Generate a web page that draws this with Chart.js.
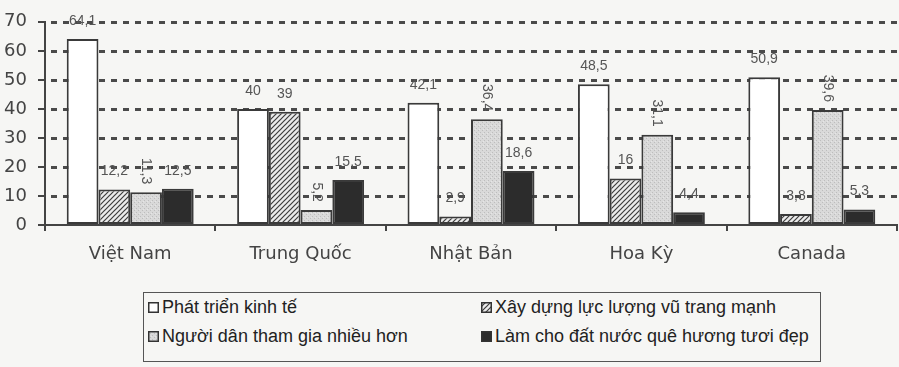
<!DOCTYPE html>
<html lang="vi">
<head>
<meta charset="utf-8">
<script src="https://cdn.jsdelivr.net/npm/chart.js@4/dist/chart.umd.min.js"></script>
<style>
  html, body { margin: 0; padding: 0; background: #f6f6f4; }
  #wrap { position: relative; width: 899px; height: 367px; background: #f6f6f4; overflow: hidden; }
  #plot { position: absolute; left: 0; top: 0; width: 899px; height: 280px; }
  #legend {
    position: absolute; left: 143px; top: 292px; width: 676px; height: 68px;
    border: 1.5px solid #555; box-sizing: content-box;
    font-family: "Liberation Sans Narrow", "Arial Narrow", "Liberation Sans", Arial, sans-serif;
    font-size: 18px; color: #222;
  }
  .item { position: absolute; display: flex; align-items: center; white-space: nowrap; }
  .item canvas { margin-right: 3px; }
</style>
</head>
<body>
<div id="wrap">
  <div id="plot"><canvas id="chart"></canvas></div>
  <div id="legend"></div>
</div>
<script>
// Countries on the category axis
const countries = ["Việt Nam", "Trung Quốc", "Nhật Bản", "Hoa Kỳ", "Canada"];

// Series names
const seriesNames = [
  "Phát triển kinh tế",
  "Xây dựng lực lượng vũ trang mạnh",
  "Người dân tham gia nhiều hơn",
  "Làm cho đất nước quê hương tươi đẹp"
];

// Percentages per series, in country order
const kinhTe   = [64.1, 40, 42.1, 48.5, 50.9];
const vuTrang  = [12.2, 39, 2.9, 16, 3.8];
const nguoiDan = [11.3, 5.2, 36.4, 31.1, 39.6];
const langQue  = [12.5, 15.5, 18.6, 4.4, 5.3];

// Y axis range and step
const yMin = 0, yMax = 70, yStep = 10;

// --- fill patterns ---
function makeTile(w, h, paint) {
  const c = document.createElement('canvas');
  c.width = w; c.height = h;
  paint(c.getContext('2d'));
  return c;
}
const hatchTile = makeTile(5, 5, g => {
  g.fillStyle = '#ebebeb'; g.fillRect(0, 0, 5, 5);
  g.strokeStyle = '#3c3c3c'; g.lineWidth = 1.2;
  g.beginPath();
  g.moveTo(-1, 6); g.lineTo(6, -1);
  g.moveTo(-3.5, 3.5); g.lineTo(3.5, -3.5);
  g.moveTo(1.5, 8.5); g.lineTo(8.5, 1.5);
  g.stroke();
});
const dotTile = makeTile(4, 4, g => {
  g.fillStyle = '#d9d9d9'; g.fillRect(0, 0, 4, 4);
  g.fillStyle = '#bdbdbd'; g.fillRect(0, 0, 1, 1); g.fillRect(2, 2, 1, 1);
  g.fillStyle = '#e6e6e6'; g.fillRect(3, 1, 1, 1);
});
const tmp = document.createElement('canvas').getContext('2d');
const fills = [
  '#ffffff',
  tmp.createPattern(hatchTile, 'repeat'),
  tmp.createPattern(dotTile, 'repeat'),
  '#2c2c2c'
];
const seriesData = [kinhTe, vuTrang, nguoiDan, langQue];

// Dashed horizontal grid lines behind the bars
const dashedGrid = {
  id: 'dashedGrid',
  beforeDatasetsDraw(chart) {
    const ctx = chart.ctx;
    const area = chart.chartArea;
    const yScale = chart.scales.y;
    const dash = 6, gap = 6, thick = 3;
    ctx.save();
    ctx.fillStyle = '#4a4a4a';
    yScale.ticks.forEach(t => {
      if (t.value === 0) return;
      const y = Math.round(yScale.getPixelForValue(t.value));
      for (let x = area.left + 6; x < area.right; x += dash + gap) {
        ctx.fillRect(x, y - 1, Math.min(dash, area.right - x), thick);
      }
    });
    ctx.restore();
  }
};

// Value labels above bars; the third series is written vertically
const valueLabels = {
  id: 'valueLabels',
  afterDatasetsDraw(chart) {
    const ctx = chart.ctx;
    ctx.save();
    ctx.fillStyle = '#555';
    ctx.font = '14px "Liberation Sans", Arial, sans-serif';
    chart.data.datasets.forEach((ds, i) => {
      const meta = chart.getDatasetMeta(i);
      meta.data.forEach((bar, j) => {
        const txt = String(ds.data[j]).replace('.', ',');
        if (i === 2) {
          ctx.save();
          ctx.translate(bar.x, bar.y - 8);
          ctx.rotate(Math.PI / 2);
          ctx.textAlign = 'right';
          ctx.textBaseline = 'middle';
          ctx.fillText(txt, 0, 0);
          ctx.restore();
        } else {
          ctx.textAlign = 'center';
          ctx.textBaseline = 'middle';
          ctx.fillText(txt, bar.x, bar.y - 18);
        }
      });
    });
    ctx.restore();
  }
};

const axisFont = '"DejaVu Sans", "Liberation Sans", Arial, sans-serif';

const chart = new Chart(document.getElementById('chart'), {
  type: 'bar',
  data: {
    labels: countries,
    datasets: seriesNames.map((name, i) => ({
      label: name,
      data: seriesData[i],
      backgroundColor: fills[i],
      borderColor: '#3a3a3a',
      borderWidth: 2,
      borderSkipped: false,
      categoryPercentage: 0.745,
      barPercentage: 1.0
    }))
  },
  options: {
    responsive: true,
    maintainAspectRatio: false,
    animation: false,
    layout: { padding: { top: 16, right: 2, left: 0, bottom: 0 } },
    plugins: { legend: { display: false }, tooltip: { enabled: false } },
    scales: {
      x: {
        afterFit: s => { s.height = 55; },
        grid: {
          display: true, drawOnChartArea: false, offset: true,
          drawTicks: true, tickLength: 6, color: '#444', lineWidth: 2
        },
        border: { display: true, color: '#444', width: 2 },
        ticks: {
          color: '#444', padding: 13,
          font: { family: axisFont, size: 18 }
        }
      },
      y: {
        min: yMin, max: yMax,
        afterFit: s => { s.width = 45; },
        grid: {
          drawOnChartArea: false, drawTicks: true,
          tickLength: 7, color: '#444', lineWidth: 2
        },
        border: { display: true, color: '#444', width: 2 },
        ticks: {
          stepSize: yStep,
          color: '#444', padding: 11,
          font: { family: axisFont, size: 18 }
        }
      }
    }
  },
  plugins: [dashedGrid, valueLabels]
});

// Legend in two columns, built from the chart's datasets
const legend = document.getElementById('legend');
const spots = [[4, 14], [337, 14], [4, 43], [337, 43]];
chart.data.datasets.forEach((ds, i) => {
  const item = document.createElement('div');
  item.className = 'item';
  item.style.left = spots[i][0] + 'px';
  item.style.top = (spots[i][1] - 11) + 'px';
  item.style.height = '22px';
  const sw = document.createElement('canvas');
  sw.width = 11; sw.height = 11;
  const g = sw.getContext('2d');
  g.fillStyle = fills[i]; g.fillRect(0, 0, 11, 11);
  g.strokeStyle = '#333'; g.lineWidth = 1.5; g.strokeRect(0.75, 0.75, 9.5, 9.5);
  item.appendChild(sw);
  const t = document.createElement('span');
  t.textContent = ds.label;
  item.appendChild(t);
  legend.appendChild(item);
});
</script>
</body>
</html>
